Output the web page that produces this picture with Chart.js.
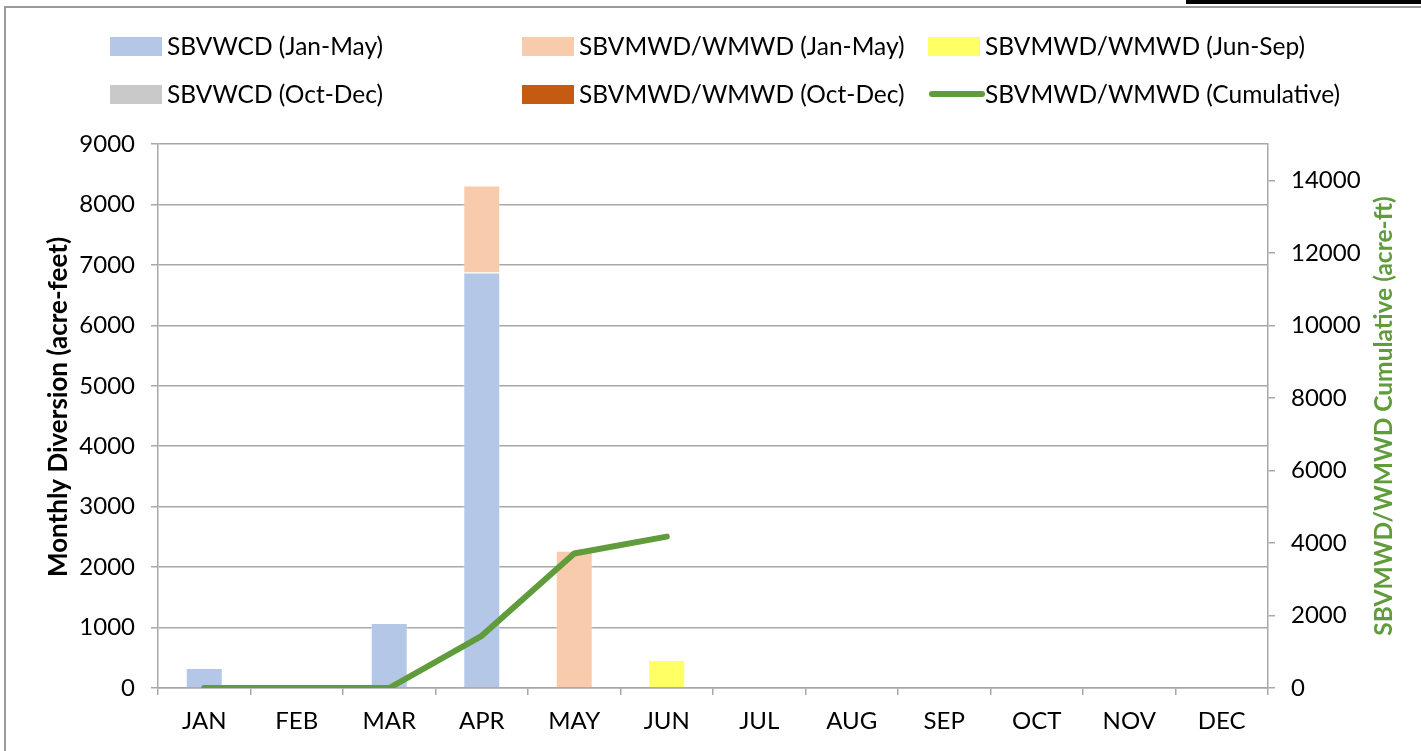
<!DOCTYPE html>
<html>
<head>
<meta charset="utf-8">
<script src="https://cdn.jsdelivr.net/npm/chart.js@4.4.0/dist/chart.umd.min.js"></script>
<style>
  html, body { margin: 0; padding: 0; background: #fff; overflow: hidden; }
  #wrap { width: 1421px; height: 751px; position: relative; }
</style>
</head>
<body>
<div id="wrap"><canvas id="chart" width="1421" height="751"></canvas></div>
<script>
const months = ['JAN', 'FEB', 'MAR', 'APR', 'MAY', 'JUN', 'JUL', 'AUG', 'SEP', 'OCT', 'NOV', 'DEC'];
const sbvwcdJanMay = [330, null, 1075, 6875, null, null, null, null, null, null, null, null];
const sbvmwdJanMay = [null, null, null, 1440, 2270, null, null, null, null, null, null, null];
const sbvmwdJunSep = [null, null, null, null, null, 465, null, null, null, null, null, null];
const sbvwcdOctDec = [null, null, null, null, null, null, null, null, null, null, null, null];
const sbvmwdOctDec = [null, null, null, null, null, null, null, null, null, null, null, null];
const sbvmwdCumulative = [0, 0, 0, 1440, 3710, 4175, null, null, null, null, null, null];
const leftTicks = [0, 1000, 2000, 3000, 4000, 5000, 6000, 7000, 8000, 9000];
const rightTicks = [0, 2000, 4000, 6000, 8000, 10000, 12000, 14000];

const FONT = 'Lato, "Liberation Sans", sans-serif';
const GRID = '#a8a8a8';
const GREEN = '#609b3c';

function bar(label, data, color) {
  return {
    type: 'bar', label, data, backgroundColor: color,
    borderColor: 'rgba(255,255,255,0.35)', borderWidth: 1,
    barPercentage: 0.4, categoryPercentage: 1, yAxisID: 'y', order: 1
  };
}

// legend in a 3-column grid, like the original
const gridLegend = {
  id: 'gridLegend',
  afterDraw(chart) {
    const ctx = chart.ctx;
    const cols = [110, 522, 928];
    const rows = [46, 94];
    ctx.save();
    ctx.font = '24.5px ' + FONT;
    ctx.textBaseline = 'middle';
    chart.data.datasets.forEach((ds, i) => {
      const x = cols[i % 3], y = rows[Math.floor(i / 3)];
      if (ds.type === 'line') {
        ctx.strokeStyle = ds.borderColor;
        ctx.lineWidth = 6;
        ctx.lineCap = 'round';
        ctx.beginPath();
        ctx.moveTo(x + 4, y);
        ctx.lineTo(x + 54, y);
        ctx.stroke();
      } else {
        ctx.fillStyle = ds.backgroundColor;
        ctx.fillRect(x, y - 9, 52, 19);
      }
      ctx.fillStyle = '#000';
      ctx.fillText(ds.label, x + 57, y + 1);
    });
    ctx.restore();
  }
};

// frame + axis titles (right title reads bottom-to-top)
const frame = {
  id: 'frame',
  beforeDraw(chart) {
    const ctx = chart.ctx;
    ctx.save();
    ctx.fillStyle = '#fff';
    ctx.fillRect(0, 0, chart.width, chart.height);
    ctx.strokeStyle = '#9a9a9a';
    ctx.lineWidth = 2;
    ctx.strokeRect(5, 7, chart.width + 20, chart.height + 20);
    ctx.fillStyle = '#000';
    ctx.fillRect(1186, 0, 240, 4);
    ctx.restore();
  },
  afterDraw(chart) {
    const ctx = chart.ctx;
    const a = chart.chartArea;
    ctx.save();
    ctx.font = 'bold 26px ' + FONT;
    ctx.textAlign = 'center';
    ctx.textBaseline = 'middle';
    ctx.translate(59, 407);
    ctx.rotate(-Math.PI / 2);
    ctx.fillStyle = '#000';
    ctx.fillText('Monthly Diversion (acre-feet)', 0, 0);
    ctx.restore();
    ctx.save();
    ctx.font = 'bold 24.5px ' + FONT;
    ctx.textAlign = 'center';
    ctx.textBaseline = 'middle';
    ctx.translate(1384, (a.top + a.bottom) / 2);
    ctx.rotate(-Math.PI / 2);
    ctx.fillStyle = GREEN;
    ctx.fillText('SBVMWD/WMWD Cumulative (acre-ft)', 0, 0);
    ctx.restore();
  }
};

new Chart(document.getElementById('chart'), {
  data: {
    labels: months,
    datasets: [
      bar('SBVWCD (Jan-May)', sbvwcdJanMay, '#b4c7e7'),
      bar('SBVMWD/WMWD (Jan-May)', sbvmwdJanMay, '#f8cbad'),
      bar('SBVMWD/WMWD (Jun-Sep)', sbvmwdJunSep, '#ffff66'),
      bar('SBVWCD (Oct-Dec)', sbvwcdOctDec, '#c9c9c9'),
      bar('SBVMWD/WMWD (Oct-Dec)', sbvmwdOctDec, '#c55a11'),
      {
        type: 'line', label: 'SBVMWD/WMWD (Cumulative)', data: sbvmwdCumulative,
        borderColor: GREEN, backgroundColor: GREEN, borderWidth: 6,
        borderCapStyle: 'round', borderJoinStyle: 'round',
        pointRadius: 0, tension: 0, yAxisID: 'y1', order: 0, spanGaps: false
      }
    ]
  },
  options: {
    responsive: false,
    animation: false,
    devicePixelRatio: 1,
    layout: { padding: { top: 144, left: 0, right: 0, bottom: 0 } },
    plugins: { legend: { display: false }, tooltip: { enabled: false } },
    scales: {
      x: {
        stacked: true,
        offset: true,
        grid: { offset: true, drawOnChartArea: false, color: GRID, lineWidth: 1.5, tickLength: 7 },
        border: { color: GRID, width: 1.5 },
        ticks: { color: '#000', font: { family: FONT, size: 24 }, padding: 12, maxRotation: 0 },
        afterFit(s) { s.height = 63; }
      },
      y: {
        stacked: true,
        min: 0, max: 9000,
        grid: { color: GRID, lineWidth: 1.5, tickLength: 7 },
        border: { color: GRID, width: 1.5 },
        ticks: { color: '#000', font: { family: FONT, size: 24 }, padding: 16, callback: v => String(v) },
        afterBuildTicks(s) { s.ticks = leftTicks.map(v => ({ value: v })); },
        afterFit(s) { s.width = 158; }
      },
      y1: {
        position: 'right',
        min: 0, max: 15000,
        grid: { drawOnChartArea: false, color: GRID, lineWidth: 1.5, tickLength: 7 },
        border: { color: GRID, width: 1.5 },
        ticks: { color: '#000', font: { family: FONT, size: 24 }, padding: 16, callback: v => String(v) },
        afterBuildTicks(s) { s.ticks = rightTicks.map(v => ({ value: v })); },
        afterFit(s) { s.width = 153; }
      }
    }
  },
  plugins: [frame, gridLegend]
});
</script>
</body>
</html>
